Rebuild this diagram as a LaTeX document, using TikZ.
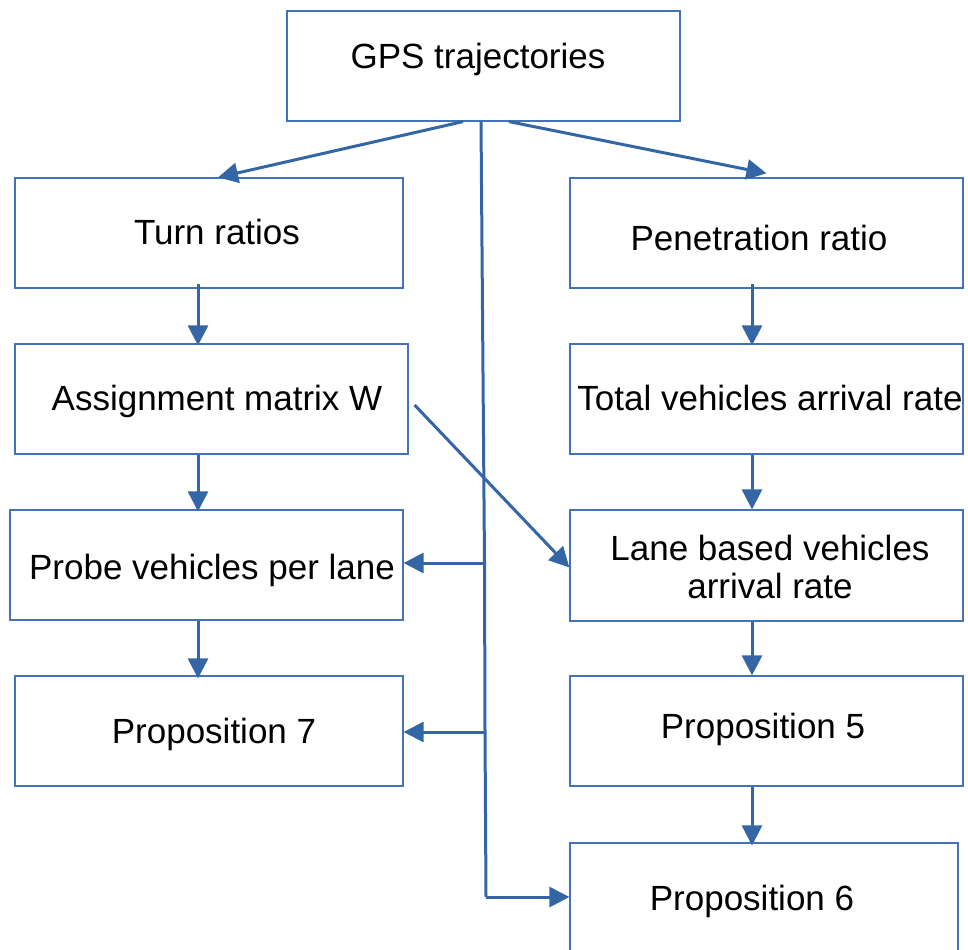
\documentclass[tikz,border=0pt]{standalone}
\usepackage{fontspec}
\setmainfont{Liberation Sans}
\usetikzlibrary{arrows.meta}

\definecolor{flowblue}{HTML}{3465A4}
\definecolor{boxblue}{HTML}{4472B8}

\begin{document}
\begin{tikzpicture}[
    x=0.5pt, y=-0.5pt,
    box/.style={draw=boxblue, line width=0.6pt, fill=white, inner sep=0pt,
        minimum width=196.5pt, minimum height=55pt},
    txt/.style={inner sep=0pt, anchor=base, font=\fontsize{17.5}{19}\selectfont},
    arrow/.style={draw=flowblue, line width=1.5pt,
        -{Triangle[length=10pt, width=10pt]}},
    trunk/.style={draw=flowblue, line width=1.5pt}
]
    \useasboundingbox (0,0) rectangle (968,949);

    % boxes
    \node[box] (gps) at (483.5,66) {};
    \node[box, minimum width=194pt] (turn) at (209,233) {};
    \node[box] (pen) at (766.5,233) {};
    \node[box] (assign) at (211.5,399) {};
    \node[box] (total) at (766.5,399) {};
    \node[box] (probe) at (206.5,565) {};
    \node[box, minimum height=55.5pt] (lane) at (766.5,565.5) {};
    \node[box, minimum width=194pt] (prop7) at (209,731) {};
    \node[box] (prop5) at (766.5,731) {};
    \node[box, minimum width=194pt] (prop6) at (764,898) {};

    % texts
    \node[txt] (gps-t) at (478,68) {GPS trajectories};
    \node[txt] (turn-t) at (217,244) {Turn ratios};
    \node[txt] (pen-t) at (759,250) {Penetration ratio};
    \node[txt] (assign-t) at (217,410) {Assignment matrix W};
    \node[txt] (total-t) at (770,410) {Total vehicles arrival rate};
    \node[txt] (probe-t) at (212,579) {Probe vehicles per lane};
    \node[txt] (lane-t1) at (770,560) {Lane based vehicles};
    \node[txt] (lane-t2) at (770,598) {arrival rate};
    \node[txt] (prop7-t) at (214,743) {Proposition 7};
    \node[txt] (prop5-t) at (763,738) {Proposition 5};
    \node[txt] (prop6-t) at (752,910) {Proposition 6};

    % junctions on the middle line
    \coordinate (j1) at (484.5,563);
    \coordinate (j2) at (485,732);
    \coordinate (j3) at (486,897);

    % arrows from GPS box
    \draw[arrow] ([xshift=-10.25pt]gps.south) -- ([xshift=4.5pt]turn.north);
    \draw[arrow] ([xshift=12.75pt]gps.south) -- ([yshift=2pt]pen.north);
    \draw[trunk] ([xshift=-1.25pt]gps.south) -- (j1) -- (j2) -- (j3);
    \draw[arrow] (j1) -- (j1 -| probe.east);
    \draw[arrow] (j2) -- (j2 -| prop7.east);
    \draw[arrow] (j3) -- (j3 -| prop6.west);

    % left column
    \draw[arrow] ([xshift=-5.5pt,yshift=2.5pt]turn.south) -- ([xshift=-5.5pt,yshift=-1pt]turn.south |- assign.north);
    \draw[arrow] ([xshift=-6.75pt]assign.south) -- ([xshift=-6.75pt,yshift=-1pt]assign.south |- probe.north);
    \draw[arrow] ([xshift=-4.25pt]probe.south) -- ([xshift=-4.25pt,yshift=-1.5pt]probe.south |- prop7.north);
    \draw[arrow] ([xshift=3pt,yshift=-3pt]assign.east) -- ([yshift=-1pt]lane.west);

    % right column
    \draw[arrow] ([xshift=-7.25pt,yshift=2.5pt]pen.south) -- ([xshift=-7.25pt,yshift=-1pt]pen.south |- total.north);
    \draw[arrow] ([xshift=-7.25pt]total.south) -- ([xshift=-7.25pt]total.south |- lane.north);
    \draw[arrow] ([xshift=-7.25pt]lane.south) -- ([xshift=-7.25pt]lane.south |- prop5.north);
    \draw[arrow] ([xshift=-7.25pt]prop5.south) -- ([xshift=-7.25pt,yshift=-1.5pt]prop5.south |- prop6.north);

\end{tikzpicture}
\end{document}
